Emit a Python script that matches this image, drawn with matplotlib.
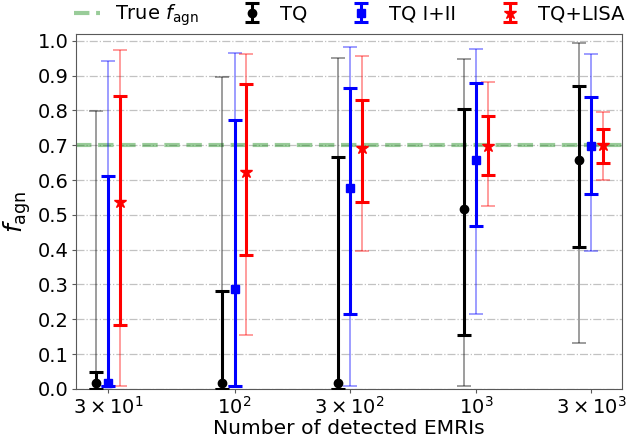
import matplotlib
matplotlib.use("Agg")
import matplotlib.pyplot as plt
import numpy as np

# Number of detected EMRIs
n_emri = np.array([30, 100, 300, 1000, 3000])
tick_labels = [r"$3\times10^1$", r"$10^2$", r"$3\times10^2$", r"$10^3$", r"$3\times10^3$"]
f_true = 0.7

# median, inner (68%) lo/hi, outer (95%) lo/hi
tq_med = [0.018, 0.018, 0.018, 0.518, 0.659]
tq_lo1 = [0.0, 0.0, 0.0, 0.156, 0.407]
tq_hi1 = [0.049, 0.282, 0.666, 0.805, 0.870]
tq_lo2 = [0.0, 0.0, 0.0, 0.008, 0.132]
tq_hi2 = [0.799, 0.897, 0.951, 0.948, 0.994]

tq12_med = [0.018, 0.286, 0.578, 0.658, 0.698]
tq12_lo1 = [0.008, 0.009, 0.216, 0.467, 0.561]
tq12_hi1 = [0.612, 0.773, 0.864, 0.880, 0.838]
tq12_lo2 = [0.008, 0.009, 0.009, 0.216, 0.397]
tq12_hi2 = [0.943, 0.966, 0.981, 0.975, 0.962]

lisa_med = [0.538, 0.622, 0.693, 0.698, 0.700]
lisa_lo1 = [0.184, 0.384, 0.538, 0.614, 0.650]
lisa_hi1 = [0.840, 0.876, 0.830, 0.784, 0.746]
lisa_lo2 = [0.009, 0.154, 0.395, 0.526, 0.601]
lisa_hi2 = [0.974, 0.961, 0.955, 0.882, 0.795]

series = [
    ("TQ", "k", "o", 0.89, tq_med, tq_lo1, tq_hi1, tq_lo2, tq_hi2),
    ("TQ I+II", "b", "s", 1.0, tq12_med, tq12_lo1, tq12_hi1, tq12_lo2, tq12_hi2),
    ("TQ+LISA", "r", "*", 1.12, lisa_med, lisa_lo1, lisa_hi1, lisa_lo2, lisa_hi2),
]

fig = plt.figure(figsize=(6.26, 4.45), dpi=100)
ax = fig.add_axes([0.121, 0.126, 0.873, 0.798])

ax.axhline(f_true, color="green", ls="--", lw=3, alpha=0.4, label=r"True $f_{\rm agn}$", zorder=1)

for label, color, marker, shift, med, lo1, hi1, lo2, hi2 in series:
    x = n_emri * shift
    med = np.array(med)
    outer = [med - np.array(lo2), np.array(hi2) - med]
    inner = [med - np.array(lo1), np.array(hi1) - med]
    ax.errorbar(x, med, yerr=outer, fmt="none", ecolor=color, elinewidth=1.2,
                capsize=5, capthick=1.2, alpha=0.45, zorder=2)
    ax.errorbar(x, med, yerr=inner, fmt=marker, color=color, ecolor=color,
                elinewidth=2.2, capsize=5, capthick=2.2,
                markersize=9 if marker == "*" else 6, label=label, zorder=3)

ax.set_xscale("log")
ax.set_xlim(22, 4030)
ax.set_ylim(0, 1.02)
ax.set_xticks(n_emri)
ax.set_xticklabels(tick_labels)
ax.xaxis.set_minor_locator(matplotlib.ticker.NullLocator())
ax.set_yticks(np.arange(0, 1.01, 0.1))
ax.set_yticklabels([f"{v:.1f}" for v in np.arange(0, 1.01, 0.1)])
ax.tick_params(labelsize=14, length=3, pad=2, color="0.35")
ax.yaxis.grid(True, ls="-.", color="0.7", alpha=0.8, lw=0.9)
ax.set_axisbelow(True)
for sp in ax.spines.values():
    sp.set_color("0.35")

ax.set_xlabel("Number of detected EMRIs", fontsize=14.6, labelpad=1)
ax.set_ylabel(r"$f_{\rm agn}$", fontsize=18)
ax.yaxis.set_label_coords(-0.079, 0.5)

ax.legend(loc="lower center", bbox_to_anchor=(0.5, 0.995), ncol=4, frameon=False,
          fontsize=14, handlelength=1.35, columnspacing=2.1, handletextpad=0.75,
          borderaxespad=0.0)

fig.savefig("out.png", dpi=100)
